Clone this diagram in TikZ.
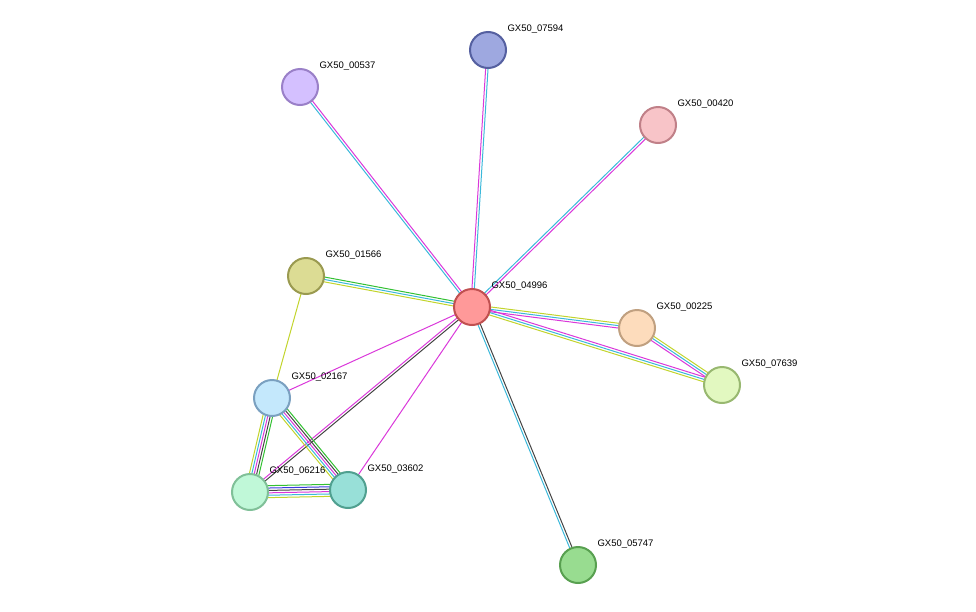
\documentclass[tikz,border=0pt]{standalone}
\usepackage{fontspec}
\setmainfont{Liberation Sans}
\usetikzlibrary{calc}

\definecolor{txtc}{HTML}{C2D42C}
\definecolor{dbc}{HTML}{3BB8DA}
\definecolor{expc}{HTML}{DA38DA}
\definecolor{coexc}{HTML}{444444}
\definecolor{nbc}{HTML}{33C033}
\definecolor{coc}{HTML}{3A3AE0}

\tikzset{
  prot/.style={circle, minimum size=36pt, line width=2pt, inner sep=0pt},
  lbl/.style={anchor=west, font=\fontsize{9.5pt}{11pt}\selectfont},
  link/.style={line width=1pt}
}

% edge of several parallel coloured lines
\newcommand{\multiedge}[3]{%
  \foreach \c [count=\k] in {#3}{\xdef\nlines{\k}}%
  \foreach \c [count=\k] in {#3}{%
    \pgfmathsetmacro{\off}{(\k-(\nlines+1)/2)*2.4}%
    \draw[link, \c] ($(#1)!\off pt!90:(#2)$) -- ($(#2)!\off pt!-90:(#1)$);
  }%
}

\begin{document}
\begin{tikzpicture}[x=1pt, y=-1pt]
  \useasboundingbox (0,0) rectangle (976,611);

  % proteins (positions only)
  \coordinate (n04996) at (472,307);
  \coordinate (n07594) at (488,50);
  \coordinate (n00537) at (300,87);
  \coordinate (n00420) at (658,125);
  \coordinate (n01566) at (306,276);
  \coordinate (n00225) at (637,328);
  \coordinate (n07639) at (722,385);
  \coordinate (n02167) at (272,398);
  \coordinate (n06216) at (250,492);
  \coordinate (n03602) at (348,490);
  \coordinate (n05747) at (578,565);

  % links
  \multiedge{n04996}{n07594}{dbc,expc}
  \multiedge{n04996}{n00537}{expc,dbc}
  \multiedge{n04996}{n00420}{expc,dbc}
  \multiedge{n04996}{n01566}{nbc,dbc,txtc}
  \multiedge{n04996}{n00225}{expc,dbc,txtc}
  \multiedge{n04996}{n07639}{txtc,dbc,expc}
  \multiedge{n00225}{n07639}{expc,dbc,txtc}
  \multiedge{n04996}{n05747}{dbc,coexc}
  \multiedge{n04996}{n02167}{expc}
  \multiedge{n04996}{n06216}{expc,coexc}
  \multiedge{n04996}{n03602}{expc}
  \multiedge{n01566}{n02167}{txtc}
  \multiedge{n02167}{n06216}{txtc,dbc,expc,coexc,nbc}
  \multiedge{n02167}{n03602}{txtc,dbc,expc,coexc,nbc}
  \multiedge{n06216}{n03602}{txtc,dbc,expc,coexc,coc,nbc}

  % nodes
  \node[prot, fill={rgb,255:red,255;green,153;blue,153}, draw={rgb,255:red,192;green,80;blue,80}] (p04996) at (n04996) {};
  \node[prot, fill={rgb,255:red,158;green,168;blue,224}, draw={rgb,255:red,85;green,96;blue,160}] (p07594) at (n07594) {};
  \node[prot, fill={rgb,255:red,212;green,192;blue,255}, draw={rgb,255:red,154;green,128;blue,200}] (p00537) at (n00537) {};
  \node[prot, fill={rgb,255:red,248;green,196;blue,200}, draw={rgb,255:red,192;green,128;blue,136}] (p00420) at (n00420) {};
  \node[prot, fill={rgb,255:red,220;green,220;blue,148}, draw={rgb,255:red,154;green,154;blue,80}] (p01566) at (n01566) {};
  \node[prot, fill={rgb,255:red,253;green,220;blue,188}, draw={rgb,255:red,192;green,160;blue,128}] (p00225) at (n00225) {};
  \node[prot, fill={rgb,255:red,226;green,248;blue,192}, draw={rgb,255:red,152;green,184;blue,112}] (p07639) at (n07639) {};
  \node[prot, fill={rgb,255:red,196;green,232;blue,252}, draw={rgb,255:red,122;green,160;blue,192}] (p02167) at (n02167) {};
  \node[prot, fill={rgb,255:red,192;green,248;blue,216}, draw={rgb,255:red,128;green,192;blue,152}] (p06216) at (n06216) {};
  \node[prot, fill={rgb,255:red,152;green,224;blue,216}, draw={rgb,255:red,80;green,160;blue,144}] (p03602) at (n03602) {};
  \node[prot, fill={rgb,255:red,152;green,220;blue,144}, draw={rgb,255:red,88;green,160;blue,80}] (p05747) at (n05747) {};

  % labels
  \foreach \n in {04996,07594,00537,00420,01566,00225,07639,02167,06216,03602,05747}
    \node[lbl] (l\n) at ($(n\n)+(16,-21)$) {GX50\_\n};
\end{tikzpicture}
\end{document}
